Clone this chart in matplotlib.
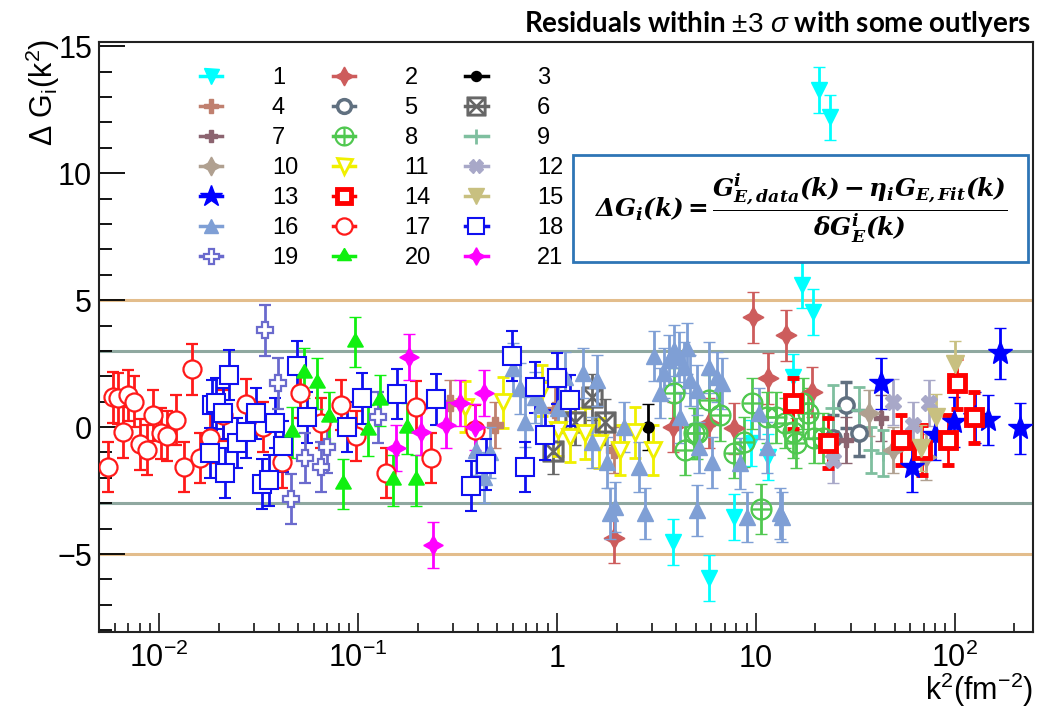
import matplotlib
matplotlib.use("Agg")
import matplotlib.pyplot as plt
from matplotlib.lines import Line2D
from matplotlib.patches import Rectangle
from matplotlib.ticker import FixedLocator, FuncFormatter, MultipleLocator, LogLocator, NullFormatter

plt.rcParams['font.family'] = ['Liberation Sans', 'DejaVu Sans']
plt.rcParams['mathtext.fontset'] = 'custom'
plt.rcParams['mathtext.rm'] = 'Liberation Sans'
plt.rcParams['mathtext.sf'] = 'Liberation Sans'
plt.rcParams['mathtext.it'] = 'Liberation Sans:italic'
plt.rcParams['mathtext.bf'] = 'Liberation Sans:bold'
plt.rcParams['mathtext.bfit'] = 'DejaVu Serif:italic:bold'

# residuals per data set: k^2 (fm^-2) and Delta G_i
k2_01 = [3.85, 5.8, 7.8, 9.5, 11.5, 15.5, 17.2, 19.5, 20.9, 23.7]
dg_01 = [-4.53, -5.94, -3.54, -0.63, -1.18, 1.97, 5.59, 4.53, 13.27, 12.2]
k2_02 = [1.95, 3.85, 5.82, 7.76, 9.66, 11.5, 14.3, 19.3]
dg_02 = [-4.37, 0.0, 0.16, -0.04, 4.33, 1.93, 3.62, 1.38]
k2_03 = [2.88]
dg_03 = [0.0]
k2_04 = [0.292, 0.490, 0.977, 1.95]
dg_04 = [0.94, 0.08, 0.67, -0.9]
k2_05 = [24.5, 28.5, 33.1]
dg_05 = [-0.43, 0.87, -0.24]
k2_06 = [0.955, 1.24, 1.50, 1.74]
dg_06 = [-0.94, 0.2, 1.18, 0.2]
k2_07 = [28.5, 42.7]
dg_07 = [-0.51, 0.35]
k2_08 = [3.89, 4.42, 4.90, 5.07, 5.82, 6.61, 7.76, 8.71, 9.55, 10.6,
         11.4, 12.7, 14.0, 15.5, 16.0, 17.4, 18.4, 19.7, 21.9]
dg_08 = [1.34, -0.9, -0.24, -0.24, 1.06, 0.47, -1.02, -0.59, 0.94, -3.23,
         0.39, 0.39, 0.16, -0.2, -0.63, 0.94, 0.55, -0.43, -0.43]
k2_09 = [24.5, 33.1, 38.0, 43.7]
dg_09 = [0.75, 0.67, -0.9, -1.02]
k2_10 = [37.2, 49.0, 71.6]
dg_10 = [0.55, -0.9, -1.18]
k2_11 = [0.347, 0.537, 0.841, 1.01, 1.16, 1.38, 1.64, 2.09, 2.48, 3.05]
dg_11 = [0.8, 0.98, 1.45, -0.12, -0.39, -0.24, -0.63, -0.9, -0.2, -0.9]
k2_12 = [24.5, 49.0, 61.7, 74.1]
dg_12 = [-1.3, 0.98, 0.08, 0.94]
k2_13 = [42.7, 61.0, 79.4, 98.9, 127, 148, 170, 214]
dg_13 = [1.73, -1.57, -0.31, 0.2, 0.39, 0.28, 2.91, -0.04]
k2_14 = [15.5, 23.2, 53.7, 68.4, 92.3, 103.5, 126]
dg_14 = [0.94, -0.63, -0.51, -0.9, -0.51, 1.73, 0.39]
k2_15 = [67.6, 80.4, 101]
dg_15 = [-0.83, 0.39, 2.5]
k2_16 = [0.394, 0.431, 0.462, 0.603, 0.653, 0.692, 0.776, 0.832, 1.01, 1.10,
         1.35, 1.51, 1.60, 1.78, 1.86, 1.97, 2.19, 2.60, 2.79, 3.09,
         3.31, 3.47, 3.67, 3.89, 4.12, 4.17, 4.37, 4.52, 4.68, 5.07,
         5.07, 5.19, 5.82, 6.03, 6.38, 6.76, 8.32, 9.02, 10.4, 11.4,
         13.2, 13.5]
dg_16 = [-0.9, -1.97, -1.0, 2.32, 1.53, 0.2, 1.18, 0.87, 0.75, 1.97,
         2.13, -0.6, 1.85, -1.38, -3.39, -3.15, 0.0, -1.57, -3.39, 2.8,
         1.34, 2.13, 2.64, 3.03, 2.76, 0.39, 2.36, 3.1, 1.85, -3.27,
         1.46, -0.79, 2.36, -1.38, 1.97, 1.73, -1.42, -3.54, 0.55, -0.79,
         -3.39, -3.54]
k2_17 = [0.00556, 0.00589, 0.00624, 0.00661, 0.0070, 0.0075, 0.0080, 0.0087, 0.0093, 0.0102,
         0.0110, 0.0122, 0.0133, 0.0146, 0.0160, 0.0180, 0.0209, 0.0275, 0.0335, 0.0417,
         0.0513, 0.0653, 0.0822, 0.0977, 0.138, 0.197, 0.234, 0.389]
dg_17 = [-1.57, 1.18, 1.14, -0.2, 1.26, 1.0, -0.67, -0.9, 0.47, -0.24,
         -0.35, 0.28, -1.57, 2.28, -1.22, -0.43, 0.47, 0.9, 0.0, -1.38,
         1.34, 0.16, 0.87, -0.35, -1.81, 0.8, -1.22, -0.12]
k2_18 = [0.0180, 0.0184, 0.0193, 0.0209, 0.0216, 0.0226, 0.0248, 0.0275, 0.0309, 0.0331,
         0.0359, 0.0385, 0.0422, 0.0495, 0.0556, 0.0881, 0.105, 0.157, 0.248, 0.372,
         0.442, 0.596, 0.692, 0.776, 0.871, 1.0, 1.16]
dg_18 = [-1.02, 0.87, 0.94, 0.55, -1.81, 2.05, -0.63, -0.2, 0.55, -2.24,
         -2.09, 0.16, -0.75, 2.4, 0.39, 0.0, 1.14, 1.3, 1.1, -2.32,
         -1.46, 2.8, -1.57, 1.57, -0.31, 1.93, 1.06]
k2_19 = [0.0343, 0.0398, 0.0462, 0.0543, 0.0653, 0.070, 0.127]
dg_19 = [3.82, 1.73, -2.83, -1.22, -1.57, -0.79, 0.39]
k2_20 = [0.0468, 0.0537, 0.0624, 0.0716, 0.0841, 0.0966, 0.112, 0.130, 0.151, 0.176, 0.197]
dg_20 = [-0.2, 2.13, 1.73, 0.39, -2.24, 3.35, -0.12, 1.06, -2.09, -0.04, -2.09]
k2_21 = [0.155, 0.180, 0.209, 0.240, 0.279, 0.327, 0.389, 0.431]
dg_21 = [-0.83, 2.76, -0.2, -4.65, 0.08, 0.94, 0.0, 1.34]

# typical 1-sigma error bar of each data set
sigma = [0.9, 1.0, 0.9, 0.9, 0.9, 0.9, 0.9, 1.0, 0.9, 0.9, 1.0,
         0.9, 1.0, 1.0, 0.9, 1.0, 1.0, 1.0, 1.0, 1.0, 0.9]

labels = [str(i) for i in range(1, 22)]
k2_all = [k2_01, k2_02, k2_03, k2_04, k2_05, k2_06, k2_07, k2_08, k2_09, k2_10, k2_11,
          k2_12, k2_13, k2_14, k2_15, k2_16, k2_17, k2_18, k2_19, k2_20, k2_21]
dg_all = [dg_01, dg_02, dg_03, dg_04, dg_05, dg_06, dg_07, dg_08, dg_09, dg_10, dg_11,
          dg_12, dg_13, dg_14, dg_15, dg_16, dg_17, dg_18, dg_19, dg_20, dg_21]

# styles (ROOT-like marker set)
colors = ['#00ffff', '#cd5c5c', '#000000', '#c0806f', '#607080', '#666666', '#8c6470',
          '#50c850', '#7fbf9f', '#b0a090', '#f0f000', '#a8a8c8', '#0000ff', '#ff0000',
          '#c8c080', '#7f9fd5', '#ff1a1a', '#1010f0', '#6a6acd', '#10f010', '#ff00ff']
markers = ['v', (4, 1, 0), 'o', 'P', 'o', r'$\boxtimes$', 'P', r'$\oplus$', '+', (4, 1, 0),
           'v', 'X', '*', 's', 'v', '^', 'o', 's', 'P', (3, 1, 0), (4, 1, 0)]
hollow = [False, False, False, False, True, False, False, False, False, False,
          True, False, False, True, False, False, True, True, True, False, False]
msizes = [12, 15, 8, 11, 11, 15, 10, 15, 12, 15, 12, 11, 18, 11, 13, 11, 13, 13, 12, 13, 14]
mews = [1, 1, 1, 1, 2.5, 1, 1, 1, 2, 1, 2, 1, 1, 3.5, 1, 1, 1.6, 1.5, 1.6, 1, 1]

fig = plt.figure(figsize=(10.37, 7.12), dpi=100)
ax = fig.add_axes([0.0955, 0.1124, 0.9006, 0.8286])
ax.set_xscale('log')
ax.set_xlim(0.005, 248)
ax.set_ylim(-8.07, 15.17)

for yl in (5, -5):
    ax.axhline(yl, color='#e3bd8c', lw=2.2, zorder=1)
for yl in (3, -3):
    ax.axhline(yl, color='#8fa8a0', lw=2.2, zorder=1)

handles = []
for i in range(21):
    fc = 'white' if hollow[i] else colors[i]
    ax.errorbar(k2_all[i], dg_all[i], yerr=sigma[i], marker=markers[i], linestyle='none',
                color=colors[i], mfc=fc, mec=colors[i], ms=msizes[i], mew=mews[i],
                elinewidth=2, capsize=4, capthick=2, zorder=3 + i * 0.01)
    handles.append(Line2D([0], [0], color=colors[i], lw=2.5, marker=markers[i],
                          mfc=fc, mec=colors[i], ms=msizes[i] * 0.9, mew=mews[i]))

# legend rows 1 2 3 / 4 5 6 / ... (matplotlib fills columns first)
order = [r * 3 + c for c in range(3) for r in range(7)]
ax.legend([handles[j] for j in order], [labels[j] for j in order], ncol=3,
          loc='upper left', bbox_to_anchor=(0.108, 0.958), frameon=False,
          fontsize=17, handlelength=0.95, handletextpad=2.1, columnspacing=1.45,
          labelspacing=0.34, borderpad=0, borderaxespad=0)

# axes cosmetics (ROOT look)
for sp in ax.spines.values():
    sp.set_linewidth(1.5)
    sp.set_color('#222222')
ax.yaxis.set_major_locator(FixedLocator([-5, 0, 5, 10, 15]))
ax.yaxis.set_minor_locator(MultipleLocator(1))
ax.yaxis.set_major_formatter(FuncFormatter(lambda v, p: '\u22125' if v < 0 else '%d' % v))
ax.xaxis.set_major_locator(FixedLocator([0.01, 0.1, 1, 10, 100]))
ax.xaxis.set_minor_locator(LogLocator(base=10, subs=range(2, 10), numticks=20))
ax.xaxis.set_minor_formatter(NullFormatter())
xt_text = {0.01: r'$\mathdefault{10^{-2}}$', 0.1: r'$\mathdefault{10^{-1}}$',
           1: '1', 10: '10', 100: r'$\mathdefault{10^{2}}$'}
ax.xaxis.set_major_formatter(FuncFormatter(lambda v, p: xt_text.get(round(v, 3), '')))
ax.tick_params(axis='y', which='major', direction='in', length=19, width=1.3,
               labelsize=22, pad=5, right=False)
ax.tick_params(axis='y', which='minor', direction='in', length=9.5, width=1.3, right=False)
ax.tick_params(axis='x', which='major', direction='in', length=14, width=1.1,
               labelsize=22, pad=25, top=False)
ax.tick_params(axis='x', which='minor', direction='in', length=6.5, width=1.1, top=False)
for t in ax.xaxis.get_major_ticks():
    t.label1.set_verticalalignment('baseline')

fig.text(0.996, 0.017, 'k$^{2}$(fm$^{-2}$)', ha='right', va='baseline', fontsize=22)
fig.text(0.041, 0.945, '\u0394 G$_{\\mathrm{i}}$(k$^{2}$)', rotation=90, ha='center', va='top',
         fontsize=22)

fig.text(0.994, 0.966, r'Residuals within $\pm3\ \sigma$ with some outlyers',
         ha='right', va='center', fontsize=20, fontweight='bold', family='Lato')

box = Rectangle((0.5526, 0.632), 0.4388, 0.1503, transform=fig.transFigure,
                facecolor='white', edgecolor='#2e75b6', lw=2, zorder=10)
fig.patches.append(box)
fig.text(0.772, 0.708,
         r'$\mathbfit{\Delta G_{i}(k) = \dfrac{G^{i}_{E,data}(k) - \eta_{i} G_{E,Fit}(k)}{\delta G^{i}_{E}(k)}}$',
         ha='center', va='center', fontsize=17.8, zorder=11)

fig.savefig('out.png', dpi=100)
